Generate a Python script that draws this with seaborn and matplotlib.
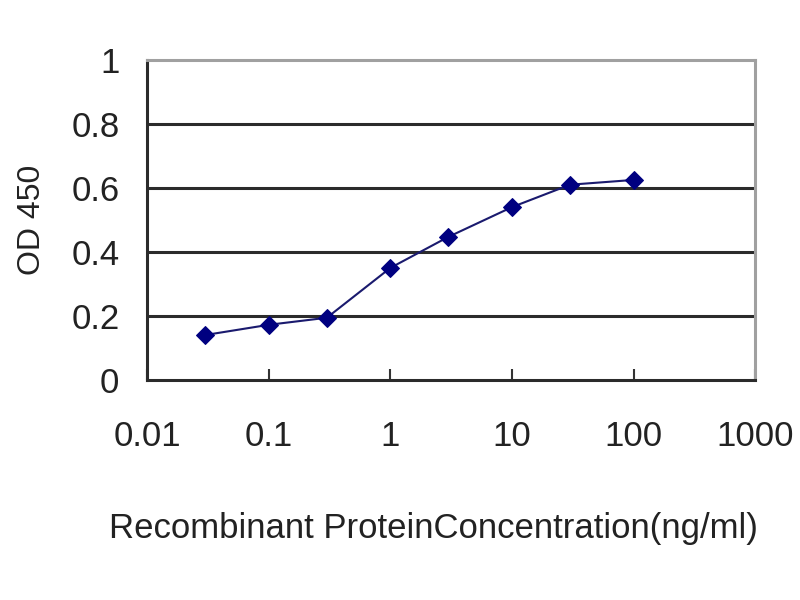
import matplotlib
matplotlib.use("Agg")
import matplotlib.pyplot as plt
import seaborn as sns
import pandas as pd
from matplotlib.ticker import FixedLocator, FixedFormatter, NullLocator

concentration = [0.03, 0.1, 0.3, 1, 3, 10, 30, 100]
od450 = [0.14, 0.172, 0.194, 0.35, 0.447, 0.54, 0.61, 0.625]
x_ticks = [0.01, 0.1, 1, 10, 100, 1000]
x_tick_labels = ["0.01", "0.1", "1", "10", "100", "1000"]
y_ticks = [0, 0.2, 0.4, 0.6, 0.8, 1]
y_tick_labels = ["0", "0.2", "0.4", "0.6", "0.8", "1"]

sns.set_style("white")
plt.rcParams["font.family"] = ["Liberation Sans", "DejaVu Sans"]

df = pd.DataFrame({"conc": concentration, "od": od450})

fig = plt.figure(figsize=(8, 6), dpi=100)
ax = fig.add_axes([0.184, 0.367, 0.76, 0.533])

for yv in y_ticks[1:-1]:
    ax.axhline(yv, color="#2b2b2b", lw=2.2, zorder=1)

sns.lineplot(data=df, x="conc", y="od", ax=ax, color="#1a1a6e", lw=1.5,
             marker="D", markersize=9, markerfacecolor="#000080",
             markeredgecolor="#000080", zorder=3)

ax.set_xscale("log")
ax.set_xlim(0.01, 1000)
ax.set_ylim(0, 1)
ax.xaxis.set_major_locator(FixedLocator(x_ticks))
ax.xaxis.set_major_formatter(FixedFormatter(x_tick_labels))
ax.xaxis.set_minor_locator(NullLocator())
ax.yaxis.set_major_locator(FixedLocator(y_ticks))
ax.yaxis.set_major_formatter(FixedFormatter(y_tick_labels))

ax.tick_params(axis="x", direction="in", length=8, width=1.5, color="#333333",
               pad=29, labelsize=25, labelcolor="#222222", bottom=True)
ax.tick_params(axis="y", length=0, pad=20, labelsize=25, labelcolor="#222222", left=True)

for side in ["left", "bottom"]:
    ax.spines[side].set_color("#2b2b2b")
    ax.spines[side].set_linewidth(2.2)
for side in ["top", "right"]:
    ax.spines[side].set_visible(True)
    ax.spines[side].set_color("#a0a0a0")
    ax.spines[side].set_linewidth(2.2)

ax.set_xlabel("Recombinant ProteinConcentration(ng/ml)", fontsize=25,
              color="#222222", va="center")
ax.xaxis.set_label_coords(0.47, -0.465)
ax.set_ylabel("OD 450", fontsize=23, color="#222222", va="center")
ax.yaxis.set_label_coords(-0.189, 0.5)

fig.savefig("out.png", dpi=100)
